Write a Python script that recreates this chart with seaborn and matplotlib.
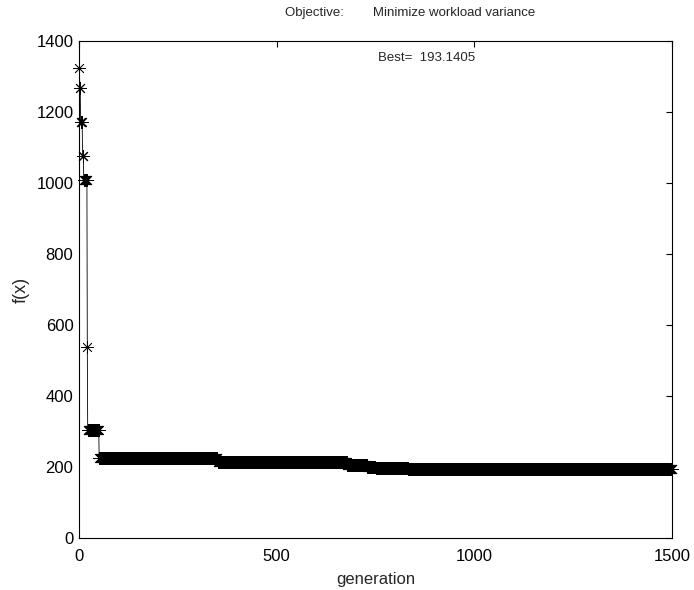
import numpy as np
import pandas as pd
import matplotlib
matplotlib.use("Agg")
import matplotlib.pyplot as plt
import seaborn as sns

# Best objective value per generation, stored as (level, number of generations held)
levels = [1324, 1269, 1173, 1077, 1008, 539, 304, 225, 214, 205, 199, 196, 193.1405]
run_lengths = [1, 2, 5, 3, 9, 1, 29, 300, 327, 51, 21, 83, 668]

x_ticks = [0, 500, 1000, 1500]
y_ticks = [0, 200, 400, 600, 800, 1000, 1200, 1400]

title_text = "Objective:        Minimize workload variance"
x_label = "generation"
y_label = "f(x)"

fx = np.repeat(levels, run_lengths)
generation = np.arange(1, len(fx) + 1)
df = pd.DataFrame({"generation": generation, "f": fx})
best = df["f"].min()

sns.set_style("white")
plt.rcParams["font.family"] = ["Liberation Sans", "DejaVu Sans"]
plt.rcParams["font.size"] = 12

fig = plt.figure(figsize=(6.94, 5.90), dpi=100)
ax = fig.add_axes([79 / 694, 52 / 590, 593 / 694, 497 / 590])

sns.lineplot(data=df, x="generation", y="f", ax=ax, estimator=None,
             color="black", linewidth=0.6, marker=(8, 2, 0),
             markersize=9, markeredgewidth=0.5, markeredgecolor="black",
             clip_on=False)

ax.set_xlim(0, 1500)
ax.set_ylim(0, 1400)
ax.set_xticks(x_ticks)
ax.set_yticks(y_ticks)
ax.tick_params(direction="in", length=4, width=0.8, top=True, right=True,
               labelsize=12, colors="black")
ax.tick_params(axis="x", pad=8)
ax.tick_params(axis="y", pad=4)
for s in ax.spines.values():
    s.set_visible(True)
    s.set_color("black")
    s.set_linewidth(0.8)
    s.set_zorder(0.5)

ax.set_xlabel(x_label, fontsize=12, labelpad=6)
ax.set_ylabel(y_label, fontsize=13, labelpad=5)

ax.text(0.347, 1.057, title_text, transform=ax.transAxes, ha="left",
        va="center", fontsize=9.5)
ax.text(0.504, 0.966, f"Best=  {best:.4f}", transform=ax.transAxes,
        ha="left", va="center", fontsize=9.5)

fig.savefig("out.png", dpi=100)
